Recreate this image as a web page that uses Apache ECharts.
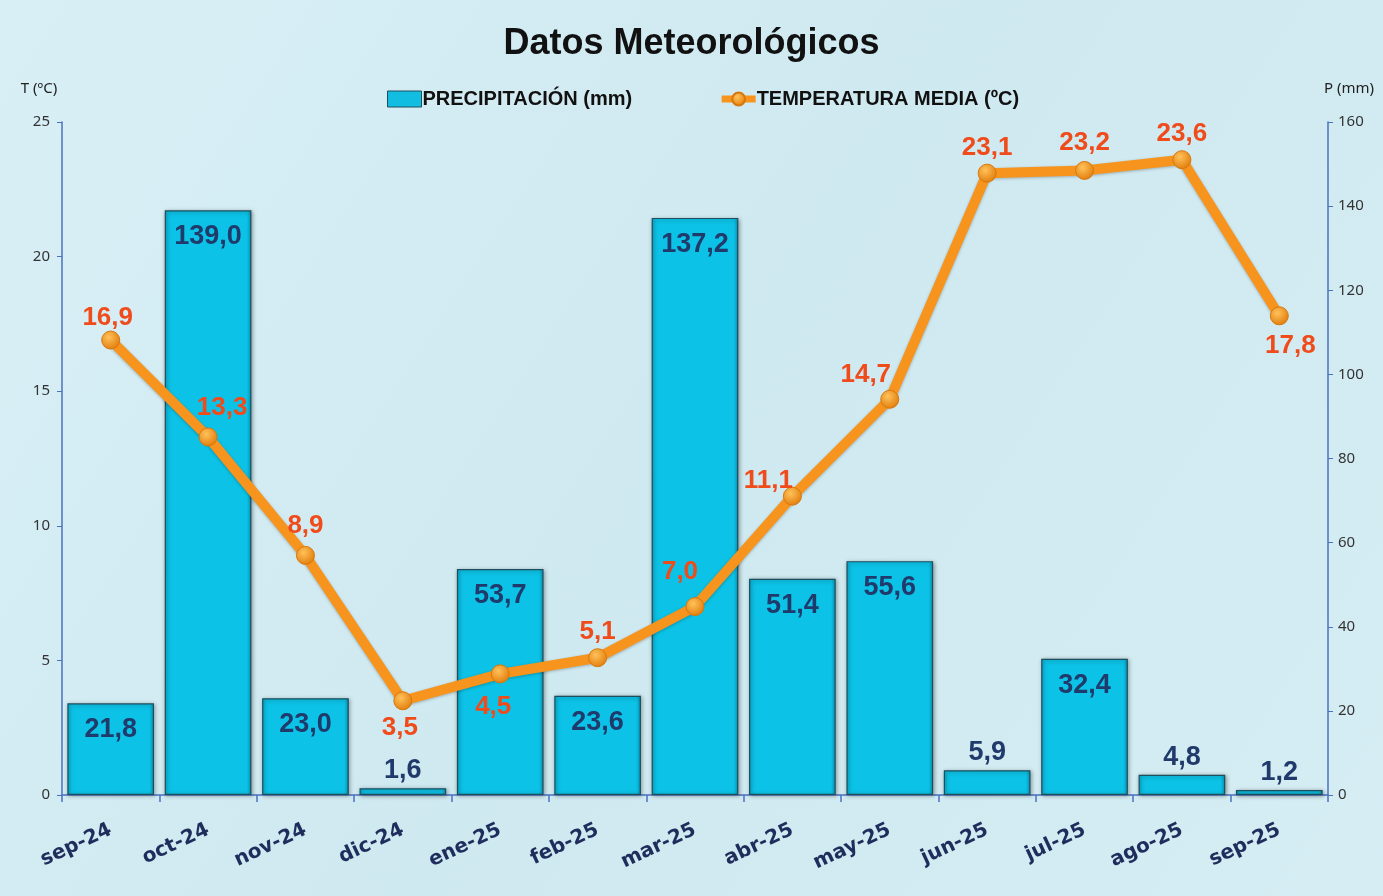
<!DOCTYPE html>
<html>
<head>
<meta charset="utf-8">
<script src="https://cdn.jsdelivr.net/npm/echarts@6/dist/echarts.min.js"></script>
<style>
html,body{margin:0;padding:0;background:#d3ecf2;}
#c{width:1383px;height:896px;}
</style>
</head>
<body>
<div id="c"></div>
<script>
const categories = ['sep-24','oct-24','nov-24','dic-24','ene-25','feb-25','mar-25','abr-25','may-25','jun-25','jul-25','ago-25','sep-25'];
const precipitation = [21.8, 139.0, 23.0, 1.6, 53.7, 23.6, 137.2, 51.4, 55.6, 5.9, 32.4, 4.8, 1.2];
const temperature = [16.9, 13.3, 8.9, 3.5, 4.5, 5.1, 7.0, 11.1, 14.7, 23.1, 23.2, 23.6, 17.8];
const tempTicks = [0, 5, 10, 15, 20, 25];
const precTicks = [0, 20, 40, 60, 80, 100, 120, 140, 160];

const fmt = v => v.toFixed(1).replace('.', ',');

// label placement per temperature point (style only)
const tempLabelPos = [
  {position:'top', offset:[-3,5]},
  {position:'top', offset:[14,-2]},
  {position:'top', offset:[0,-2]},
  {position:'bottom', offset:[-3,0]},
  {position:'bottom', offset:[-7,5]},
  {position:'top', offset:[0,2]},
  {position:'top', offset:[-15,-7]},
  {position:'top', offset:[-24,12]},
  {position:'top', offset:[-24,3]},
  {position:'top', offset:[0,2]},
  {position:'top', offset:[0,0]},
  {position:'top', offset:[0,2]},
  {position:'bottom', offset:[11,3]}
];

const tempData = temperature.map((v, i) => ({
  value: v,
  label: {position: tempLabelPos[i].position, offset: tempLabelPos[i].offset}
}));

const precData = precipitation.map(v => ({
  value: v,
  label: v < 10 ? {position: 'top', distance: 4} : {position: 'insideTop', distance: 13}
}));

const chart = echarts.init(document.getElementById('c'), null, {renderer: 'canvas'});
chart.setOption({
  backgroundColor: {
    type: 'linear', x: 0, y: 0, x2: 1, y2: 1,
    colorStops: [{offset: 0, color: '#d8eff5'}, {offset: 0.5, color: '#cfe9f0'}, {offset: 1, color: '#d5edf3'}]
  },
  animation: false,
  title: {
    text: 'Datos Meteorológicos',
    left: 'center', top: 21,
    textStyle: {fontFamily: 'Liberation Sans, Arial', fontWeight: 'bold', fontSize: 36, color: '#111'}
  },
  legend: {
    top: 84, left: 382,
    itemGap: 86, itemWidth: 34, itemHeight: 16,
    textStyle: {fontFamily: 'Liberation Sans, Arial', fontWeight: 'bold', fontSize: 20, color: '#111', padding: [0,0,0,-4]},
    data: [
      {name: 'PRECIPITACIÓN (mm)', icon: 'rect', itemStyle: {color: '#12bde2', borderColor: '#1d4f5e', borderWidth: 1}},
      {name: 'TEMPERATURA MEDIA (ºC)', lineStyle: {width: 7, color: '#f7941d'}}
    ]
  },
  grid: {left: 62, right: 55, top: 122, bottom: 101, containLabel: false},
  xAxis: {
    type: 'category',
    data: categories,
    boundaryGap: true,
    axisLine: {lineStyle: {color: '#4a72c0', width: 1.5}},
    axisTick: {show: true, alignWithLabel: false, length: 7, lineStyle: {color: '#4a72c0', width: 1.5}},
    axisLabel: {
      rotate: 25, margin: 34, interval: 0,
      fontFamily: 'DejaVu Sans, sans-serif', fontWeight: 'bold', fontSize: 20, color: '#1f2d5c'
    }
  },
  yAxis: [
    {
      type: 'value', min: tempTicks[0], max: tempTicks[tempTicks.length-1], interval: 5,
      name: 'T (ºC)', nameLocation: 'end', nameGap: 26,
      nameTextStyle: {fontFamily: 'Noto Sans, sans-serif', fontSize: 15, color: '#222', align: 'center', padding: [0, 46, 0, 0]},
      axisLine: {show: true, lineStyle: {color: '#4a72c0', width: 1.5}},
      axisTick: {show: true, length: 5, lineStyle: {color: '#4a72c0'}},
      splitLine: {show: false},
      axisLabel: {fontFamily: 'Noto Sans, sans-serif', fontSize: 15, color: '#333', margin: 12}
    },
    {
      type: 'value', min: precTicks[0], max: precTicks[precTicks.length-1], interval: 20,
      name: 'P (mm)', nameLocation: 'end', nameGap: 26,
      nameTextStyle: {fontFamily: 'Noto Sans, sans-serif', fontSize: 15, color: '#222', align: 'center', padding: [0, 0, 0, 42]},
      axisLine: {show: true, lineStyle: {color: '#4a72c0', width: 1.5}},
      axisTick: {show: true, length: 5, lineStyle: {color: '#4a72c0'}},
      splitLine: {show: false},
      axisLabel: {fontFamily: 'Noto Sans, sans-serif', fontSize: 15, color: '#333', margin: 10}
    }
  ],
  series: [
    {
      name: 'PRECIPITACIÓN (mm)',
      type: 'bar',
      yAxisIndex: 1,
      data: precData,
      barCategoryGap: '11%',
      itemStyle: {
        color: {
          type: 'linear', x: 0, y: 0, x2: 1, y2: 0,
          colorStops: [{offset: 0, color: '#07a9cc'}, {offset: 0.05, color: '#0cc2e6'}, {offset: 0.95, color: '#0cc2e6'}, {offset: 1, color: '#0796b8'}]
        },
        borderColor: '#1d4f5e', borderWidth: 1.2,
        shadowColor: 'rgba(0,0,0,0.35)', shadowBlur: 4, shadowOffsetX: 1, shadowOffsetY: 1
      },
      label: {
        show: true,
        formatter: p => fmt(p.value),
        fontFamily: 'Liberation Sans, Arial', fontWeight: 'bold', fontSize: 27, color: '#1f3a6b'
      },
      z: 2
    },
    {
      name: 'TEMPERATURA MEDIA (ºC)',
      type: 'line',
      yAxisIndex: 0,
      data: tempData,
      lineStyle: {color: '#f7941d', width: 10, shadowColor: 'rgba(0,0,0,0.25)', shadowBlur: 3, shadowOffsetY: 1},
      symbol: 'circle', symbolSize: 18,
      itemStyle: {
        color: {
          type: 'radial', x: 0.4, y: 0.35, r: 0.7,
          colorStops: [{offset: 0, color: '#ffc25a'}, {offset: 1, color: '#e07a08'}]
        },
        borderColor: '#d9770c', borderWidth: 1
      },
      label: {
        show: true,
        formatter: p => fmt(p.value),
        fontFamily: 'Liberation Sans, Arial', fontWeight: 'bold', fontSize: 26, color: '#f04b1b',
        distance: 5
      },
      z: 5
    }
  ]
});
</script>
</body>
</html>
